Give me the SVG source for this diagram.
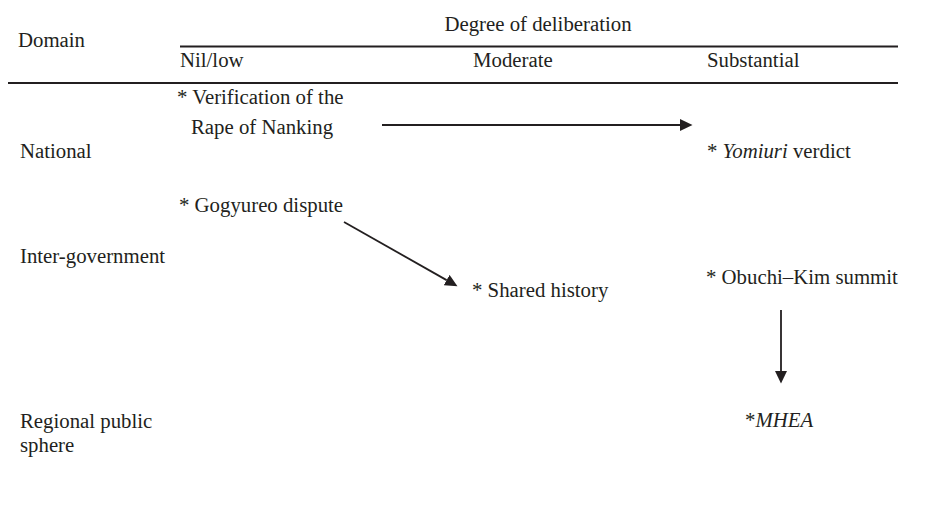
<svg xmlns="http://www.w3.org/2000/svg" width="939" height="527" viewBox="0 0 939 527">
  <style>
    text { font-family: "Liberation Serif", "Times New Roman", serif; font-size: 20.8px; fill: #231f20; }
    .it { font-style: italic; }
    .rule { stroke: #231f20; stroke-width: 2.2; }
    .conn { stroke: #231f20; stroke-width: 1.8; fill: none; }
  </style>
  <defs>
    <marker id="ah" markerUnits="userSpaceOnUse" markerWidth="14" markerHeight="13" refX="0" refY="6" orient="auto">
      <path d="M0,0 L12.5,6 L0,12 z" fill="#231f20"/>
    </marker>
  </defs>
  <rect width="939" height="527" fill="#ffffff"/>

  <g id="header">
    <text x="18" y="47">Domain</text>
    <text x="538" y="31" text-anchor="middle">Degree of deliberation</text>
    <line class="rule" x1="180" y1="46.5" x2="898" y2="46.5"/>
    <text x="180" y="67">Nil/low</text>
    <text x="473" y="67">Moderate</text>
    <text x="707" y="67">Substantial</text>
    <line class="rule" x1="8" y1="83" x2="898" y2="83"/>
  </g>

  <g id="row-labels">
    <text x="20" y="158">National</text>
    <text x="20" y="263">Inter-government</text>
    <text x="20" y="428">Regional public</text>
    <text x="20" y="452">sphere</text>
  </g>

  <g id="node-nanking">
    <text x="177" y="104">* Verification of the</text>
    <text x="191" y="134">Rape of Nanking</text>
  </g>
  <g id="node-yomiuri">
    <text x="707" y="158">* <tspan class="it">Yomiuri</tspan> verdict</text>
  </g>
  <g id="node-gogyureo">
    <text x="179" y="212">* Gogyureo dispute</text>
  </g>
  <g id="node-shared">
    <text x="472" y="297">* Shared history</text>
  </g>
  <g id="node-obuchi">
    <text x="706" y="284">* Obuchi–Kim summit</text>
  </g>
  <g id="node-mhea">
    <text x="745" y="427">*<tspan class="it">MHEA</tspan></text>
  </g>

  <g id="connectors">
    <line class="conn" x1="382" y1="125" x2="680" y2="125" marker-end="url(#ah)"/>
    <line class="conn" x1="344" y1="222" x2="446.6" y2="280.1" marker-end="url(#ah)"/>
    <line class="conn" x1="781" y1="310" x2="781" y2="371" marker-end="url(#ah)"/>
  </g>
</svg>
